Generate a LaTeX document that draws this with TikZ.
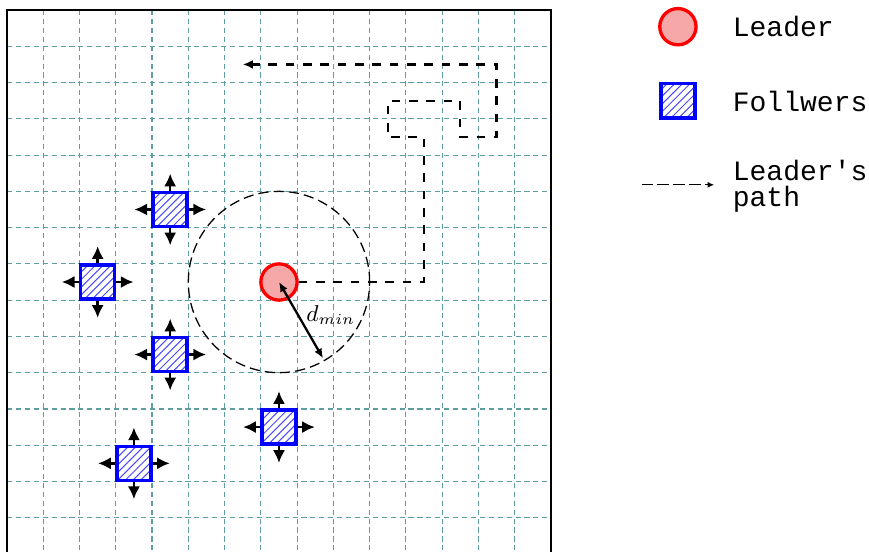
\documentclass[tikz,border=0pt]{standalone}
\usepackage{fontspec}
\newfontfamily\legendfont{Liberation Mono}
\usetikzlibrary{arrows.meta,patterns}

\definecolor{gridteal}{RGB}{95,158,160}
\definecolor{leaderpink}{RGB}{246,168,168}

\tikzset{
  gridline/.style={gridteal, line width=0.45pt, dash pattern=on 2pt off 1.5pt},
  leader/.style={circle, draw=red, line width=1.3pt, fill=leaderpink,
    minimum size=0.5cm, inner sep=0pt},
  follower/.style={rectangle, draw=blue, line width=1.4pt,
    pattern=north east lines, pattern color=blue!70,
    minimum size=0.47cm, inner sep=0pt},
  movearrow/.style={line width=0.95pt, -{Latex[length=5pt,width=4.8pt]}},
  leaderpath/.style={line width=0.85pt, dash pattern=on 3.4pt off 3.4pt,
    -{Latex[length=4pt,width=3.5pt]}},
  rangecircle/.style={line width=0.5pt, dash pattern=on 4pt off 2pt},
  dminarrow/.style={line width=0.9pt,
    {Latex[length=3.8pt,width=3.2pt]}-{Latex[length=3.8pt,width=3.2pt]}},
  legendtext/.style={font=\legendfont\fontsize{11}{10.2}\selectfont,
    inner sep=0pt, anchor=west, align=left}
}

\begin{document}
\begin{tikzpicture}[x=0.5cm,y=0.5cm]

\useasboundingbox
(-0.193,0.276)
rectangle
(23.77,-14.944);

% Grid
\foreach \k in {1,...,14}{
  \draw[gridline] (\k,0) -- (\k,-15);
  \draw[gridline] (0,-\k) -- (15,-\k);
}

% Frame
\draw[line width=0.9pt]
(0,0)
rectangle
(15,-15);

% Leader
\node[leader]
(L)
at (7.5,-7.5)
{};

% Range circle
\draw[rangecircle]
(L.center)
circle[radius=2.5];

% Leader's path
\coordinate (p1) at (11.5,-7.5);
\coordinate (p2) at (11.5,-3.5);
\coordinate (p3) at (10.5,-3.5);
\coordinate (p4) at (10.5,-2.5);
\coordinate (p5) at (12.5,-2.5);
\coordinate (p6) at (12.5,-3.5);
\coordinate (p7) at (13.5,-3.5);
\coordinate (p8) at (13.5,-1.5);
\coordinate (p9) at (6.5,-1.5);

\draw[leaderpath]
(L.east)
-- (p1) -- (p2) -- (p3) -- (p4) -- (p5)
-- (p6) -- (p7) -- (p8) -- (p9);

% d_min
\path (L.center) ++(-60:2.43) coordinate (dend);

\draw[dminarrow]
(L.center)
--
(dend);

\node[font=\small]
(dlabel)
at (8.93,-8.41)
{$d_{min}$};

% Followers
\node[follower] (f1) at (4.5,-5.5) {};
\node[follower] (f2) at (2.5,-7.5) {};
\node[follower] (f3) at (4.5,-9.5) {};
\node[follower] (f4) at (7.5,-11.5) {};
\node[follower] (f5) at (3.5,-12.5) {};

\foreach \i in {1,...,5}{
  \draw[movearrow] (f\i.north) -- ++(0,0.47);
  \draw[movearrow] (f\i.south) -- ++(0,-0.47);
  \draw[movearrow] (f\i.east) -- ++(0.47,0);
  \draw[movearrow] (f\i.west) -- ++(-0.47,0);
}

% Legend
\node[leader]
(legL)
at (18.5,-0.46)
{};

\node[legendtext]
(legLtext)
at (20,-0.46)
{Leader};

\node[follower]
(legF)
at (18.5,-2.5)
{};

\node[legendtext]
(legFtext)
at (20,-2.52)
{Follwers};

\coordinate (legA) at (17.5,-4.82);
\coordinate (legB) at (19.5,-4.82);

\draw[line width=0.5pt, dash pattern=on 4.5pt off 1.7pt,
  -{Latex[length=2.6pt,width=2.4pt]}]
(legA)
--
(legB);

\node[legendtext]
(legPtext)
at (20,-4.85)
{Leader's\\path};

\end{tikzpicture}
\end{document}
